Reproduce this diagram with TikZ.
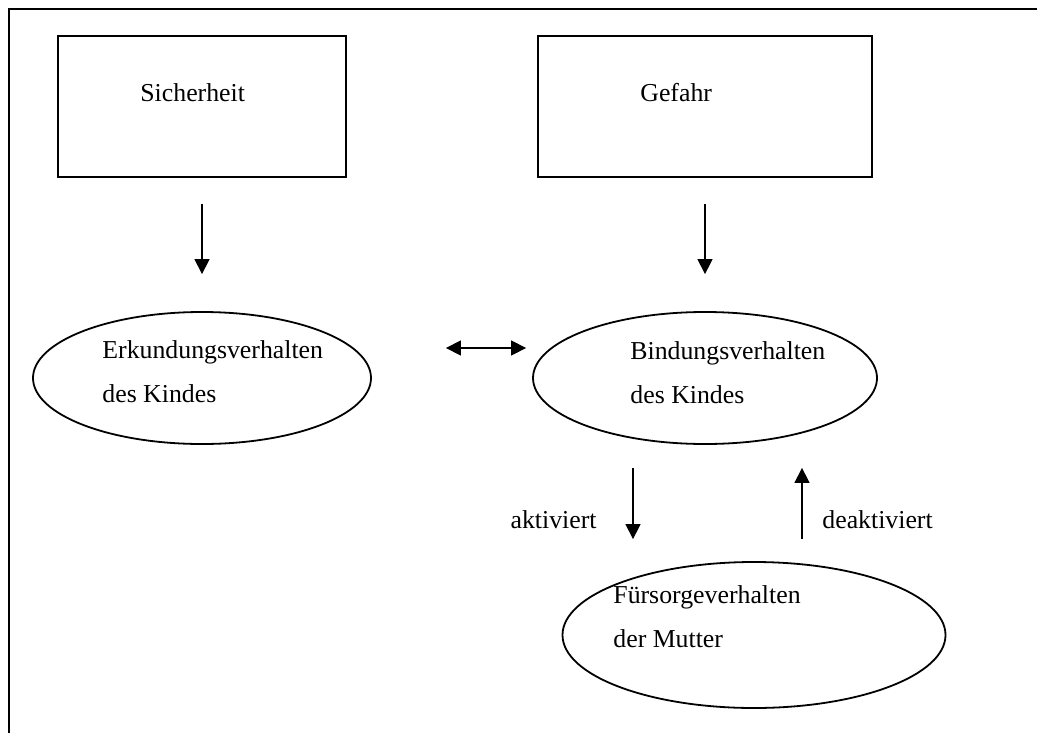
\documentclass[tikz,border=0pt]{standalone}
\usepackage{fontspec}
\setmainfont{Liberation Serif}
\usetikzlibrary{positioning,arrows.meta,shapes.geometric}
\tikzset{
  figbox/.style={draw, line width=0.9pt, minimum height=70.5pt, inner sep=0pt},
  figell/.style={draw, ellipse, line width=0.9pt, inner sep=0pt},
  figtext/.style={font=\fontsize{12.9pt}{22pt}\selectfont, align=left,
    anchor=base west, inner sep=0pt},
  figarrow/.style={-{Triangle[length=7.5pt, width=7.5pt]}, line width=0.65pt},
}

\begin{document}
\begin{tikzpicture}[x=0.5pt, y=-0.5pt]
  \useasboundingbox (0,0) rectangle (1037,733);
  \draw[line width=1.1pt] (1037,9) -- (9,9) -- (9,733);
  % Auslöser
  \node[figbox, minimum width=144pt] (sicher) at (202,106.5) {};
  \node[figbox, minimum width=167pt] (gefahr) at (705,106.5) {};
  \node[figtext] at (140,102) {Sicherheit};
  \node[figtext] at (640,102) {Gefahr};
  % Verhaltenssysteme
  \node[figell, minimum width=169pt, minimum height=66pt] (erk) at (202,378) {};
  \node[figell, minimum width=172pt, minimum height=66pt] (bind) at (705,378) {};
  \node[figell, minimum width=191.5pt, minimum height=73pt] (fuer) at (754,635) {};
  \node[figtext] at (102,402) {Erkundungsverhalten\\des Kindes};
  \node[figtext] at (630,403) {Bindungsverhalten\\des Kindes};
  \node[figtext] at (613,647) {Fürsorgeverhalten\\der Mutter};
  \draw[figarrow, shorten <=13pt, shorten >=18.5pt] (sicher) -- (erk);
  \draw[figarrow, shorten <=13pt, shorten >=18.5pt] (gefahr) -- (bind);
  \coordinate (mitte) at (0,348);
  \draw[{Triangle[length=7.5pt, width=7.5pt]}-{Triangle[length=7.5pt, width=7.5pt]},
    line width=0.65pt, shorten <=37pt, shorten >=3pt]
    (erk.east |- mitte) -- (bind.west |- mitte);
  \coordinate (akt) at (633,0);
  \coordinate (deakt) at (802,0);
  \draw[figarrow, shorten <=11.5pt, shorten >=11pt] (bind.south -| akt) -- (fuer.north -| akt);
  \draw[figarrow, shorten <=11pt, shorten >=11.5pt] (fuer.north -| deakt) -- (bind.south -| deakt);
  \node[figtext, anchor=base east] at (597,528) {aktiviert};
  \node[figtext] at (822,528) {deaktiviert};
\end{tikzpicture}
\end{document}
